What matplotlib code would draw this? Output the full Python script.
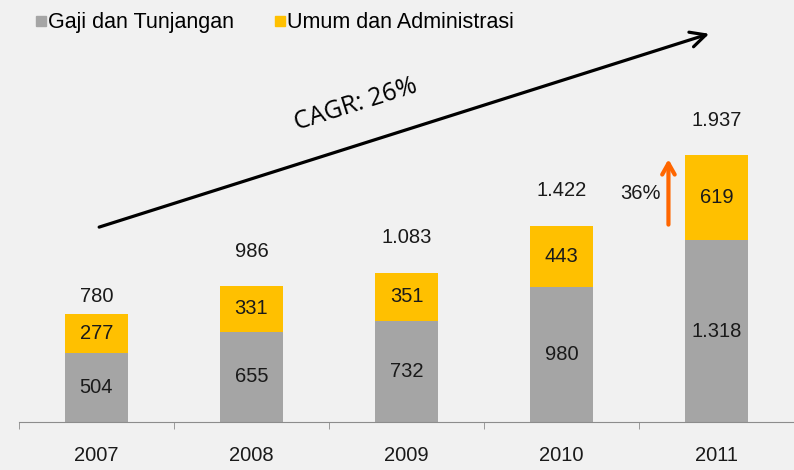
import matplotlib.pyplot as plt
from matplotlib.lines import Line2D

years = ['2007', '2008', '2009', '2010', '2011']
gaji = [504, 655, 732, 980, 1318]
umum = [277, 331, 351, 443, 619]
totals = [780, 986, 1083, 1422, 1937]

def fmt(v):
    return f'{v:,}'.replace(',', '.')

plt.rcParams['font.family'] = ['Liberation Sans', 'DejaVu Sans']

fig = plt.figure(figsize=(7.94, 4.70), dpi=100)
fig.patch.set_facecolor('#f1f1f1')
ax = fig.add_axes([19 / 794, 48 / 470, 775 / 794, 422 / 470])
ax.set_facecolor('#f1f1f1')

x = range(len(years))
ax.bar(x, gaji, width=0.41, color='#a5a5a5')
ax.bar(x, umum, width=0.41, bottom=gaji, color='#ffc000')

fs = 14.5
for i in x:
    ax.text(i, gaji[i] / 2, fmt(gaji[i]), ha='center', va='center', fontsize=fs, color='#1a1a1a')
    ax.text(i, gaji[i] + umum[i] / 2, fmt(umum[i]), ha='center', va='center', fontsize=fs, color='#1a1a1a')
    off = 18 if i == 0 else 35
    ax.annotate(fmt(totals[i]), (i, gaji[i] + umum[i]), xytext=(0, off * 0.72),
                textcoords='offset points', ha='center', va='center', fontsize=fs, color='#1a1a1a')

ax.set_xlim(-0.5, 4.5)
ax.set_ylim(0, 3062)
for s in ['top', 'right', 'left']:
    ax.spines[s].set_visible(False)
ax.spines['bottom'].set_color('#8c8c8c')
ax.set_yticks([])
ax.set_xticks(list(x))
ax.set_xticklabels(years, fontsize=fs, color='#1a1a1a')
ax.tick_params(axis='x', which='major', length=0, pad=17)
ax.set_xticks([i - 0.5 for i in range(len(years) + 1)], minor=True)
ax.tick_params(axis='x', which='minor', length=5, color='#8c8c8c')

# CAGR arrow
ax.annotate('', xy=(3.97, 2823), xytext=(0, 1408),
            arrowprops=dict(arrowstyle='->,head_length=1.1,head_width=0.55', lw=2.3, color='black'))
ax.text(1.67, 2300, 'CAGR: 26%', rotation=17.5, ha='center', va='center',
        fontsize=18, family=['Open Sans', 'DejaVu Sans'], color='black')

# growth arrow 2011
ax.annotate('', xy=(3.69, totals[4] - 10), xytext=(3.69, totals[3] - 10),
            arrowprops=dict(arrowstyle='->,head_length=0.8,head_width=0.45', lw=3, color='#ff6600'))
ax.text(3.64, 1660, '36%', ha='right', va='center', fontsize=fs, color='#1a1a1a')

handles = [Line2D([], [], marker='s', ls='', color='#a5a5a5', markersize=7),
           Line2D([], [], marker='s', ls='', color='#ffc000', markersize=7)]
fig.legend(handles, ['Gaji dan Tunjangan', 'Umum dan Administrasi'], loc='upper left',
           bbox_to_anchor=(15 / 794, 1.015), ncol=2, frameon=False, fontsize=15.5,
           handlelength=0.6, handletextpad=0.05, columnspacing=1.8)

fig.savefig('out.png', dpi=100, facecolor=fig.get_facecolor())
